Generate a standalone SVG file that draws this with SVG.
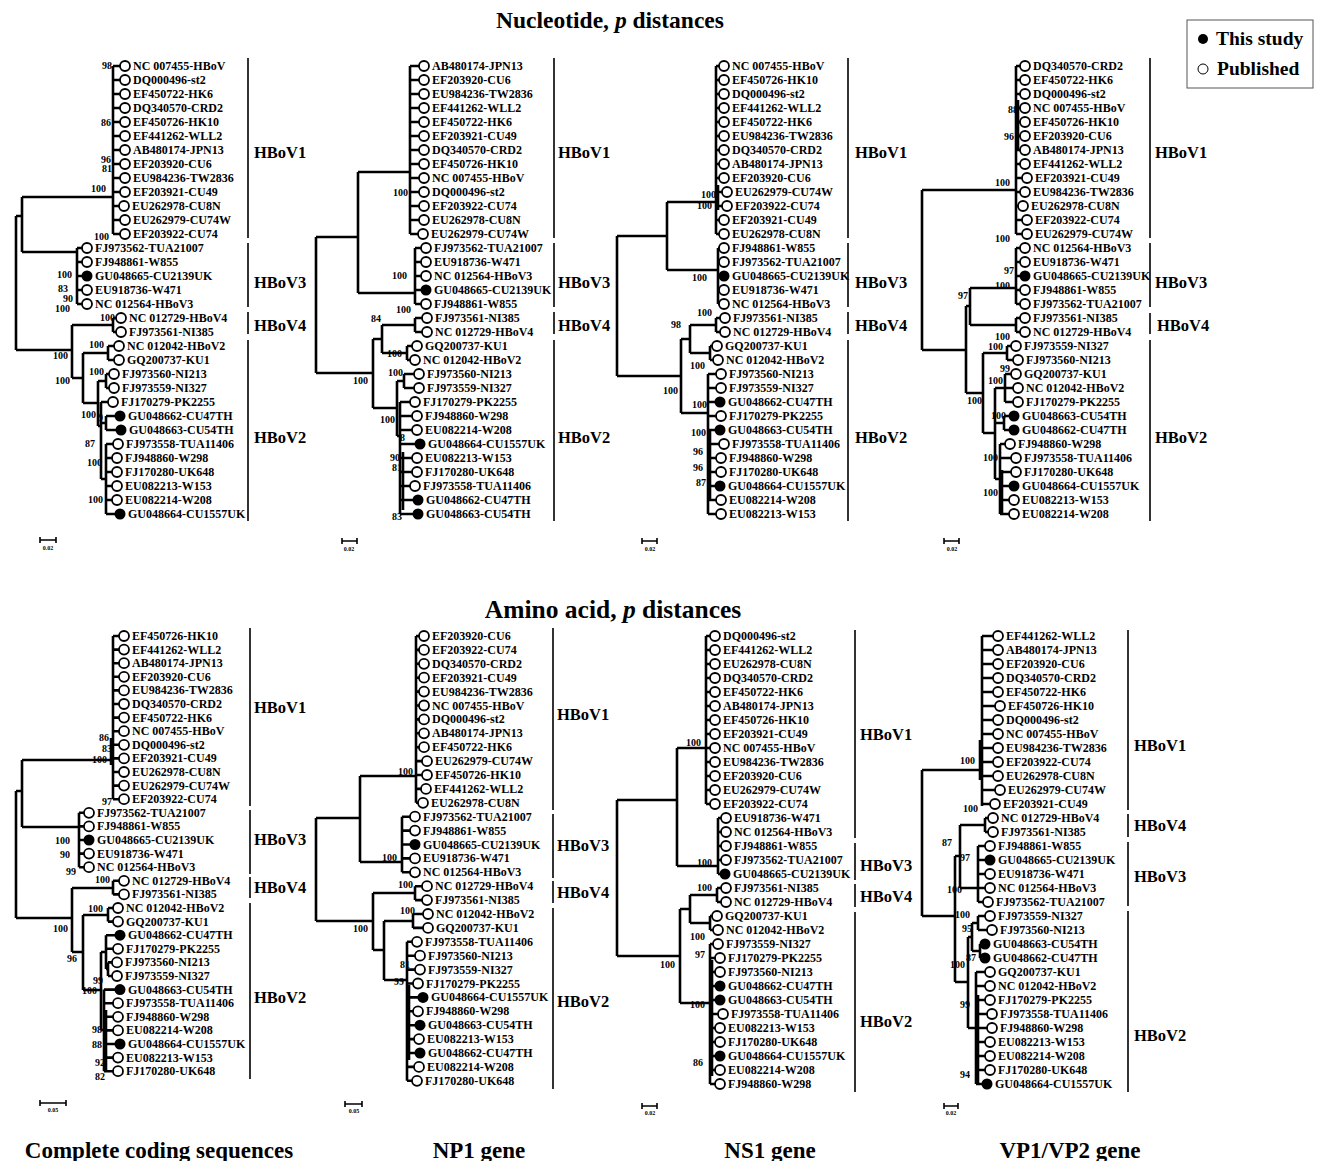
<svg xmlns="http://www.w3.org/2000/svg" width="1322" height="1161" viewBox="0 0 1322 1161">
<style>
text{font-family:"Liberation Serif","Times New Roman",serif;font-weight:bold;font-size:12px;fill:#000}
.br{fill:none;stroke:#000;stroke-width:2.6}
.bk{fill:none;stroke:#000;stroke-width:1.6}
.sc{fill:none;stroke:#000;stroke-width:1.6}
.o{fill:#fff;stroke:#000;stroke-width:1.8}
.f{fill:#000}
.bs{font-size:10px;text-anchor:end}
.cl{font-size:16.5px}
.ti{font-size:23.5px;text-anchor:middle}
.ti2{font-size:25.5px;text-anchor:middle}
.gl{font-size:23px;text-anchor:middle}
.st{font-size:6px;text-anchor:middle}
.lg{font-size:19.5px}
</style>
<rect width="1322" height="1161" fill="#fff"/>
<g id="titles">
<text class="ti" x="610" y="28">Nucleotide, <tspan font-style="italic">p</tspan> distances</text>
<text class="ti2" x="613" y="618">Amino acid, <tspan font-style="italic">p</tspan> distances</text>
<text class="gl" x="159" y="1158">Complete coding sequences</text>
<text class="gl" x="479" y="1158">NP1 gene</text>
<text class="gl" x="770" y="1158">NS1 gene</text>
<text class="gl" x="1070" y="1158">VP1/VP2 gene</text>
</g>
<g id="legend">
<rect x="1187" y="20" width="126" height="68" fill="#fff" stroke="#555" stroke-width="1"/>
<circle class="f" cx="1203" cy="39" r="5"/>
<text class="lg" x="1216" y="45">This study</text>
<circle cx="1203" cy="69" r="5" fill="#fff" stroke="#000" stroke-width="1"/>
<text class="lg" x="1217" y="75">Published</text>
</g>
<g id="scalebars">
<path class="sc" d="M40,540H56M40,537V543M56,537V543 M342,541H357M342,538V544M357,538V544 M642,541H657M642,538V544M657,538V544 M944,541H959M944,538V544M959,538V544 M40,1103H66M40,1100V1106M66,1100V1106 M345,1104H362M345,1101V1107M362,1101V1107 M642,1106H657M642,1103V1109M657,1103V1109 M944,1106H958M944,1103V1109M958,1103V1109"/>
<text class="st" x="48" y="550">0.02</text>
<text class="st" x="349" y="551">0.02</text>
<text class="st" x="650" y="551">0.02</text>
<text class="st" x="952" y="551">0.02</text>
<text class="st" x="53" y="1112">0.05</text>
<text class="st" x="354" y="1113">0.05</text>
<text class="st" x="650" y="1115">0.02</text>
<text class="st" x="951" y="1115">0.02</text>
</g>

<!-- ===== Tree 1: nucleotide, complete coding sequences ===== -->
<g id="tree-nt-ccs">
<g id="t1-edges">
<path class="br" d="M16,216V350M16,216H22M22,197V252M22,197H113M113,66V234M113,66H120M113,80H120M113,94H120M113,108H120M113,122H120M113,136H120M113,150H120M113,164H120M113,178H120M113,192H120M113,206H119M113,220H120M113,234H120M22,252H77M77,248V304M77,248H82M77,262H82M77,276H82M77,290H82M77,304H82M16,350H72M72,325V378M72,325H113M113,318V332M113,318H116M113,332H116M72,378H83M83,353V403M83,353H108M108,346V360M108,346H114M108,360H114M83,403H98M98,381V426M98,381H106M106,374V388M106,374H109M106,388H109M98,426H101M101,402V479M101,402H108M101,423H106M106,416V430M106,416H115M106,430H116M101,479H106M106,444V514M106,444H113M106,458H112M106,472H112M106,486H112M106,500H112M106,514H115"/>
<path class="bk" d="M248,58V238M248,243V307M248,312V334M248,340V521"/>
</g>
<g id="t1-0"><circle class="o" cx="125" cy="66" r="5"/><text x="133" y="70">NC 007455-HBoV</text></g>
<g id="t1-1"><circle class="o" cx="125" cy="80" r="5"/><text x="133" y="84">DQ000496-st2</text></g>
<g id="t1-2"><circle class="o" cx="125" cy="94" r="5"/><text x="133" y="98">EF450722-HK6</text></g>
<g id="t1-3"><circle class="o" cx="125" cy="108" r="5"/><text x="133" y="112">DQ340570-CRD2</text></g>
<g id="t1-4"><circle class="o" cx="125" cy="122" r="5"/><text x="133" y="126">EF450726-HK10</text></g>
<g id="t1-5"><circle class="o" cx="125" cy="136" r="5"/><text x="133" y="140">EF441262-WLL2</text></g>
<g id="t1-6"><circle class="o" cx="125" cy="150" r="5"/><text x="133" y="154">AB480174-JPN13</text></g>
<g id="t1-7"><circle class="o" cx="125" cy="164" r="5"/><text x="133" y="168">EF203920-CU6</text></g>
<g id="t1-8"><circle class="o" cx="125" cy="178" r="5"/><text x="133" y="182">EU984236-TW2836</text></g>
<g id="t1-9"><circle class="o" cx="125" cy="192" r="5"/><text x="133" y="196">EF203921-CU49</text></g>
<g id="t1-10"><circle class="o" cx="124" cy="206" r="5"/><text x="132" y="210">EU262978-CU8N</text></g>
<g id="t1-11"><circle class="o" cx="125" cy="220" r="5"/><text x="133" y="224">EU262979-CU74W</text></g>
<g id="t1-12"><circle class="o" cx="125" cy="234" r="5"/><text x="133" y="238">EF203922-CU74</text></g>
<g id="t1-13"><circle class="o" cx="87" cy="248" r="5"/><text x="95" y="252">FJ973562-TUA21007</text></g>
<g id="t1-14"><circle class="o" cx="87" cy="262" r="5"/><text x="95" y="266">FJ948861-W855</text></g>
<g id="t1-15"><circle class="f" cx="87" cy="276" r="5.5"/><text x="95" y="280">GU048665-CU2139UK</text></g>
<g id="t1-16"><circle class="o" cx="87" cy="290" r="5"/><text x="95" y="294">EU918736-W471</text></g>
<g id="t1-17"><circle class="o" cx="87" cy="304" r="5"/><text x="95" y="308">NC 012564-HBoV3</text></g>
<g id="t1-18"><circle class="o" cx="121" cy="318" r="5"/><text x="129" y="322">NC 012729-HBoV4</text></g>
<g id="t1-19"><circle class="o" cx="121" cy="332" r="5"/><text x="129" y="336">FJ973561-NI385</text></g>
<g id="t1-20"><circle class="o" cx="119" cy="346" r="5"/><text x="127" y="350">NC 012042-HBoV2</text></g>
<g id="t1-21"><circle class="o" cx="119" cy="360" r="5"/><text x="127" y="364">GQ200737-KU1</text></g>
<g id="t1-22"><circle class="o" cx="114" cy="374" r="5"/><text x="122" y="378">FJ973560-NI213</text></g>
<g id="t1-23"><circle class="o" cx="114" cy="388" r="5"/><text x="122" y="392">FJ973559-NI327</text></g>
<g id="t1-24"><circle class="o" cx="113" cy="402" r="5"/><text x="121" y="406">FJ170279-PK2255</text></g>
<g id="t1-25"><circle class="f" cx="120" cy="416" r="5.5"/><text x="128" y="420">GU048662-CU47TH</text></g>
<g id="t1-26"><circle class="f" cx="121" cy="430" r="5.5"/><text x="129" y="434">GU048663-CU54TH</text></g>
<g id="t1-27"><circle class="o" cx="118" cy="444" r="5"/><text x="126" y="448">FJ973558-TUA11406</text></g>
<g id="t1-28"><circle class="o" cx="117" cy="458" r="5"/><text x="125" y="462">FJ948860-W298</text></g>
<g id="t1-29"><circle class="o" cx="117" cy="472" r="5"/><text x="125" y="476">FJ170280-UK648</text></g>
<g id="t1-30"><circle class="o" cx="117" cy="486" r="5"/><text x="125" y="490">EU082213-W153</text></g>
<g id="t1-31"><circle class="o" cx="117" cy="500" r="5"/><text x="125" y="504">EU082214-W208</text></g>
<g id="t1-32"><circle class="f" cx="120" cy="514" r="5.5"/><text x="128" y="518">GU048664-CU1557UK</text></g>
<g id="t1-boot">
<text class="bs" x="112" y="69">98</text><text class="bs" x="111" y="126">86</text><text class="bs" x="111" y="163">96</text><text class="bs" x="112" y="172">81</text>
<text class="bs" x="106" y="192">100</text><text class="bs" x="109" y="240">100</text>
<text class="bs" x="72" y="278">100</text><text class="bs" x="68" y="292">83</text><text class="bs" x="73" y="302">90</text><text class="bs" x="70" y="312">100</text>
<text class="bs" x="115" y="321">100</text><text class="bs" x="104" y="348">100</text><text class="bs" x="68" y="359">100</text>
<text class="bs" x="104" y="375">100</text><text class="bs" x="70" y="384">100</text>
<text class="bs" x="96" y="418">100</text><text class="bs" x="103" y="421">9</text>
<text class="bs" x="95" y="447">87</text><text class="bs" x="102" y="466">100</text><text class="bs" x="103" y="503">100</text>
</g>
<g id="t1-clades"><text class="cl" x="254" y="158">HBoV1</text><text class="cl" x="254" y="288">HBoV3</text><text class="cl" x="254" y="331">HBoV4</text><text class="cl" x="254" y="443">HBoV2</text></g>
</g>

<!-- ===== Tree 2: nucleotide, NP1 ===== -->
<g id="tree-nt-np1">
<g id="t2-edges">
<path class="br" d="M316,237V373M316,237H358M358,172V293M358,172H410M410,66V234M410,66H419M410,80H419M410,94H419M410,108H419M410,122H419M410,136H419M410,150H419M410,164H419M410,178H419M410,192H419M410,206H419M410,220H419M410,234H418M358,293H415M415,248V304M415,248H421M415,262H421M415,276H421M415,290H421M415,304H421M316,373H373M373,339V408M373,339H382M382,325V353M382,325H415M415,318V332M415,318H422M415,332H422M382,353H407M407,346V360M407,346H412M407,360H410M373,408H397M397,381V436M397,381H404M404,374V388M404,374H414M404,388H414M397,436H400M400,402V514M403,452V510M400,402H410M400,416H412M400,430H412M400,444H415M400,458H412M400,472H412M400,486H410M400,500H413M400,514H413"/>
<path class="bk" d="M554,58V238M554,243V307M554,312V334M554,340V521"/>
</g>
<g id="t2-0"><circle class="o" cx="424" cy="66" r="5"/><text x="432" y="70">AB480174-JPN13</text></g>
<g id="t2-1"><circle class="o" cx="424" cy="80" r="5"/><text x="432" y="84">EF203920-CU6</text></g>
<g id="t2-2"><circle class="o" cx="424" cy="94" r="5"/><text x="432" y="98">EU984236-TW2836</text></g>
<g id="t2-3"><circle class="o" cx="424" cy="108" r="5"/><text x="432" y="112">EF441262-WLL2</text></g>
<g id="t2-4"><circle class="o" cx="424" cy="122" r="5"/><text x="432" y="126">EF450722-HK6</text></g>
<g id="t2-5"><circle class="o" cx="424" cy="136" r="5"/><text x="432" y="140">EF203921-CU49</text></g>
<g id="t2-6"><circle class="o" cx="424" cy="150" r="5"/><text x="432" y="154">DQ340570-CRD2</text></g>
<g id="t2-7"><circle class="o" cx="424" cy="164" r="5"/><text x="432" y="168">EF450726-HK10</text></g>
<g id="t2-8"><circle class="o" cx="424" cy="178" r="5"/><text x="432" y="182">NC 007455-HBoV</text></g>
<g id="t2-9"><circle class="o" cx="424" cy="192" r="5"/><text x="432" y="196">DQ000496-st2</text></g>
<g id="t2-10"><circle class="o" cx="424" cy="206" r="5"/><text x="432" y="210">EF203922-CU74</text></g>
<g id="t2-11"><circle class="o" cx="424" cy="220" r="5"/><text x="432" y="224">EU262978-CU8N</text></g>
<g id="t2-12"><circle class="o" cx="423" cy="234" r="5"/><text x="431" y="238">EU262979-CU74W</text></g>
<g id="t2-13"><circle class="o" cx="426" cy="248" r="5"/><text x="434" y="252">FJ973562-TUA21007</text></g>
<g id="t2-14"><circle class="o" cx="426" cy="262" r="5"/><text x="434" y="266">EU918736-W471</text></g>
<g id="t2-15"><circle class="o" cx="426" cy="276" r="5"/><text x="434" y="280">NC 012564-HBoV3</text></g>
<g id="t2-16"><circle class="f" cx="426" cy="290" r="5.5"/><text x="434" y="294">GU048665-CU2139UK</text></g>
<g id="t2-17"><circle class="o" cx="426" cy="304" r="5"/><text x="434" y="308">FJ948861-W855</text></g>
<g id="t2-18"><circle class="o" cx="427" cy="318" r="5"/><text x="435" y="322">FJ973561-NI385</text></g>
<g id="t2-19"><circle class="o" cx="427" cy="332" r="5"/><text x="435" y="336">NC 012729-HBoV4</text></g>
<g id="t2-20"><circle class="o" cx="417" cy="346" r="5"/><text x="425" y="350">GQ200737-KU1</text></g>
<g id="t2-21"><circle class="o" cx="415" cy="360" r="5"/><text x="423" y="364">NC 012042-HBoV2</text></g>
<g id="t2-22"><circle class="o" cx="419" cy="374" r="5"/><text x="427" y="378">FJ973560-NI213</text></g>
<g id="t2-23"><circle class="o" cx="419" cy="388" r="5"/><text x="427" y="392">FJ973559-NI327</text></g>
<g id="t2-24"><circle class="o" cx="415" cy="402" r="5"/><text x="423" y="406">FJ170279-PK2255</text></g>
<g id="t2-25"><circle class="o" cx="417" cy="416" r="5"/><text x="425" y="420">FJ948860-W298</text></g>
<g id="t2-26"><circle class="o" cx="417" cy="430" r="5"/><text x="425" y="434">EU082214-W208</text></g>
<g id="t2-27"><circle class="f" cx="420" cy="444" r="5.5"/><text x="428" y="448">GU048664-CU1557UK</text></g>
<g id="t2-28"><circle class="o" cx="417" cy="458" r="5"/><text x="425" y="462">EU082213-W153</text></g>
<g id="t2-29"><circle class="o" cx="417" cy="472" r="5"/><text x="425" y="476">FJ170280-UK648</text></g>
<g id="t2-30"><circle class="o" cx="415" cy="486" r="5"/><text x="423" y="490">FJ973558-TUA11406</text></g>
<g id="t2-31"><circle class="f" cx="418" cy="500" r="5.5"/><text x="426" y="504">GU048662-CU47TH</text></g>
<g id="t2-32"><circle class="f" cx="418" cy="514" r="5.5"/><text x="426" y="518">GU048663-CU54TH</text></g>
<g id="t2-boot">
<text class="bs" x="408" y="196">100</text><text class="bs" x="407" y="279">100</text><text class="bs" x="411" y="313">100</text><text class="bs" x="381" y="322">84</text>
<text class="bs" x="402" y="357">100</text><text class="bs" x="368" y="384">100</text><text class="bs" x="403" y="376">100</text><text class="bs" x="395" y="423">100</text>
<text class="bs" x="405" y="441">8</text><text class="bs" x="400" y="461">90</text><text class="bs" x="402" y="471">81</text><text class="bs" x="402" y="520">83</text>
</g>
<g id="t2-clades"><text class="cl" x="558" y="158">HBoV1</text><text class="cl" x="558" y="288">HBoV3</text><text class="cl" x="558" y="331">HBoV4</text><text class="cl" x="558" y="443">HBoV2</text></g>
</g>

<!-- ===== Tree 3: nucleotide, NS1 ===== -->
<g id="tree-nt-ns1">
<g id="t3-edges">
<path class="br" d="M617,236V376M617,236H667M667,202V270M667,202H716M716,66V234M718,185V210M716,66H719M716,80H719M716,94H719M716,108H719M716,122H719M716,136H719M716,150H719M716,164H719M716,178H719M716,192H722M716,206H722M716,220H719M716,234H719M667,270H718M718,248V304M718,248H719M718,304H719M617,376H681M681,339V413M681,339H690M690,325V353M690,325H716M716,318V332M716,318H720M716,332H720M690,353H710M710,346V360M710,346H712M710,360H713M681,413H708M708,374V514M710,430V500M708,374H716M708,388H716M708,402H715M708,416H716M708,430H715M708,444H719M708,458H716M708,472H716M708,486H715M708,500H716M708,514H716"/>
<path class="bk" d="M848,58V238M848,243V307M848,312V334M848,340V521"/>
</g>
<g id="t3-0"><circle class="o" cx="724" cy="66" r="5"/><text x="732" y="70">NC 007455-HBoV</text></g>
<g id="t3-1"><circle class="o" cx="724" cy="80" r="5"/><text x="732" y="84">EF450726-HK10</text></g>
<g id="t3-2"><circle class="o" cx="724" cy="94" r="5"/><text x="732" y="98">DQ000496-st2</text></g>
<g id="t3-3"><circle class="o" cx="724" cy="108" r="5"/><text x="732" y="112">EF441262-WLL2</text></g>
<g id="t3-4"><circle class="o" cx="724" cy="122" r="5"/><text x="732" y="126">EF450722-HK6</text></g>
<g id="t3-5"><circle class="o" cx="724" cy="136" r="5"/><text x="732" y="140">EU984236-TW2836</text></g>
<g id="t3-6"><circle class="o" cx="724" cy="150" r="5"/><text x="732" y="154">DQ340570-CRD2</text></g>
<g id="t3-7"><circle class="o" cx="724" cy="164" r="5"/><text x="732" y="168">AB480174-JPN13</text></g>
<g id="t3-8"><circle class="o" cx="724" cy="178" r="5"/><text x="732" y="182">EF203920-CU6</text></g>
<g id="t3-9"><circle class="o" cx="727" cy="192" r="5"/><text x="735" y="196">EU262979-CU74W</text></g>
<g id="t3-10"><circle class="o" cx="727" cy="206" r="5"/><text x="735" y="210">EF203922-CU74</text></g>
<g id="t3-11"><circle class="o" cx="724" cy="220" r="5"/><text x="732" y="224">EF203921-CU49</text></g>
<g id="t3-12"><circle class="o" cx="724" cy="234" r="5"/><text x="732" y="238">EU262978-CU8N</text></g>
<g id="t3-13"><circle class="o" cx="724" cy="248" r="5"/><text x="732" y="252">FJ948861-W855</text></g>
<g id="t3-14"><circle class="o" cx="724" cy="262" r="5"/><text x="732" y="266">FJ973562-TUA21007</text></g>
<g id="t3-15"><circle class="f" cx="724" cy="276" r="5.5"/><text x="732" y="280">GU048665-CU2139UK</text></g>
<g id="t3-16"><circle class="o" cx="724" cy="290" r="5"/><text x="732" y="294">EU918736-W471</text></g>
<g id="t3-17"><circle class="o" cx="724" cy="304" r="5"/><text x="732" y="308">NC 012564-HBoV3</text></g>
<g id="t3-18"><circle class="o" cx="725" cy="318" r="5"/><text x="733" y="322">FJ973561-NI385</text></g>
<g id="t3-19"><circle class="o" cx="725" cy="332" r="5"/><text x="733" y="336">NC 012729-HBoV4</text></g>
<g id="t3-20"><circle class="o" cx="717" cy="346" r="5"/><text x="725" y="350">GQ200737-KU1</text></g>
<g id="t3-21"><circle class="o" cx="718" cy="360" r="5"/><text x="726" y="364">NC 012042-HBoV2</text></g>
<g id="t3-22"><circle class="o" cx="721" cy="374" r="5"/><text x="729" y="378">FJ973560-NI213</text></g>
<g id="t3-23"><circle class="o" cx="721" cy="388" r="5"/><text x="729" y="392">FJ973559-NI327</text></g>
<g id="t3-24"><circle class="f" cx="720" cy="402" r="5.5"/><text x="728" y="406">GU048662-CU47TH</text></g>
<g id="t3-25"><circle class="o" cx="721" cy="416" r="5"/><text x="729" y="420">FJ170279-PK2255</text></g>
<g id="t3-26"><circle class="f" cx="720" cy="430" r="5.5"/><text x="728" y="434">GU048663-CU54TH</text></g>
<g id="t3-27"><circle class="o" cx="724" cy="444" r="5"/><text x="732" y="448">FJ973558-TUA11406</text></g>
<g id="t3-28"><circle class="o" cx="721" cy="458" r="5"/><text x="729" y="462">FJ948860-W298</text></g>
<g id="t3-29"><circle class="o" cx="721" cy="472" r="5"/><text x="729" y="476">FJ170280-UK648</text></g>
<g id="t3-30"><circle class="f" cx="720" cy="486" r="5.5"/><text x="728" y="490">GU048664-CU1557UK</text></g>
<g id="t3-31"><circle class="o" cx="721" cy="500" r="5"/><text x="729" y="504">EU082214-W208</text></g>
<g id="t3-32"><circle class="o" cx="721" cy="514" r="5"/><text x="729" y="518">EU082213-W153</text></g>
<g id="t3-boot">
<text class="bs" x="716" y="198">100</text><text class="bs" x="712" y="209">100</text><text class="bs" x="707" y="281">100</text><text class="bs" x="712" y="316">100</text>
<text class="bs" x="681" y="328">98</text><text class="bs" x="705" y="369">100</text><text class="bs" x="678" y="394">100</text><text class="bs" x="707" y="408">100</text>
<text class="bs" x="706" y="436">100</text><text class="bs" x="703" y="455">96</text><text class="bs" x="703" y="471">96</text><text class="bs" x="706" y="486">87</text>
</g>
<g id="t3-clades"><text class="cl" x="855" y="158">HBoV1</text><text class="cl" x="855" y="288">HBoV3</text><text class="cl" x="855" y="331">HBoV4</text><text class="cl" x="855" y="443">HBoV2</text></g>
</g>

<!-- ===== Tree 4: nucleotide, VP1/VP2 ===== -->
<g id="tree-nt-vp">
<g id="t4-edges">
<path class="br" d="M922,190V350M922,190H1016M1016,66V234M1018,100V150M1016,66H1020M1016,80H1020M1016,94H1020M1016,108H1020M1016,122H1020M1016,136H1020M1016,150H1020M1016,164H1020M1016,178H1022M1016,192H1020M1016,206H1018M1016,220H1022M1016,234H1022M922,350H966M966,306V393M966,306H970M970,288V325M970,288H1016M1016,248V304M1016,248H1020M1016,262H1020M1016,276H1020M1016,290H1020M1016,304H1020M970,325H1016M1016,318V332M1016,318H1020M1016,332H1020M966,393H983M983,353V433M983,353H1007M1007,346V360M1007,346H1011M1007,360H1013M983,433H995M995,388V479M995,388H1005M1005,374V402M1005,374H1011M1005,388H1013M1005,402H1013M995,423H1004M1004,416V430M1004,416H1009M1004,430H1009M995,479H1000M1000,444V514M1002,470V514M1000,444H1005M1000,458H1011M1000,472H1011M1000,486H1009M1000,500H1009M1000,514H1009"/>
<path class="bk" d="M1150,58V238M1150,243V307M1150,313V334M1150,340V521"/>
</g>
<g id="t4-0"><circle class="o" cx="1025" cy="66" r="5"/><text x="1033" y="70">DQ340570-CRD2</text></g>
<g id="t4-1"><circle class="o" cx="1025" cy="80" r="5"/><text x="1033" y="84">EF450722-HK6</text></g>
<g id="t4-2"><circle class="o" cx="1025" cy="94" r="5"/><text x="1033" y="98">DQ000496-st2</text></g>
<g id="t4-3"><circle class="o" cx="1025" cy="108" r="5"/><text x="1033" y="112">NC 007455-HBoV</text></g>
<g id="t4-4"><circle class="o" cx="1025" cy="122" r="5"/><text x="1033" y="126">EF450726-HK10</text></g>
<g id="t4-5"><circle class="o" cx="1025" cy="136" r="5"/><text x="1033" y="140">EF203920-CU6</text></g>
<g id="t4-6"><circle class="o" cx="1025" cy="150" r="5"/><text x="1033" y="154">AB480174-JPN13</text></g>
<g id="t4-7"><circle class="o" cx="1025" cy="164" r="5"/><text x="1033" y="168">EF441262-WLL2</text></g>
<g id="t4-8"><circle class="o" cx="1027" cy="178" r="5"/><text x="1035" y="182">EF203921-CU49</text></g>
<g id="t4-9"><circle class="o" cx="1025" cy="192" r="5"/><text x="1033" y="196">EU984236-TW2836</text></g>
<g id="t4-10"><circle class="o" cx="1023" cy="206" r="5"/><text x="1031" y="210">EU262978-CU8N</text></g>
<g id="t4-11"><circle class="o" cx="1027" cy="220" r="5"/><text x="1035" y="224">EF203922-CU74</text></g>
<g id="t4-12"><circle class="o" cx="1027" cy="234" r="5"/><text x="1035" y="238">EU262979-CU74W</text></g>
<g id="t4-13"><circle class="o" cx="1025" cy="248" r="5"/><text x="1033" y="252">NC 012564-HBoV3</text></g>
<g id="t4-14"><circle class="o" cx="1025" cy="262" r="5"/><text x="1033" y="266">EU918736-W471</text></g>
<g id="t4-15"><circle class="f" cx="1025" cy="276" r="5.5"/><text x="1033" y="280">GU048665-CU2139UK</text></g>
<g id="t4-16"><circle class="o" cx="1025" cy="290" r="5"/><text x="1033" y="294">FJ948861-W855</text></g>
<g id="t4-17"><circle class="o" cx="1025" cy="304" r="5"/><text x="1033" y="308">FJ973562-TUA21007</text></g>
<g id="t4-18"><circle class="o" cx="1025" cy="318" r="5"/><text x="1033" y="322">FJ973561-NI385</text></g>
<g id="t4-19"><circle class="o" cx="1025" cy="332" r="5"/><text x="1033" y="336">NC 012729-HBoV4</text></g>
<g id="t4-20"><circle class="o" cx="1016" cy="346" r="5"/><text x="1024" y="350">FJ973559-NI327</text></g>
<g id="t4-21"><circle class="o" cx="1018" cy="360" r="5"/><text x="1026" y="364">FJ973560-NI213</text></g>
<g id="t4-22"><circle class="o" cx="1016" cy="374" r="5"/><text x="1024" y="378">GQ200737-KU1</text></g>
<g id="t4-23"><circle class="o" cx="1018" cy="388" r="5"/><text x="1026" y="392">NC 012042-HBoV2</text></g>
<g id="t4-24"><circle class="o" cx="1018" cy="402" r="5"/><text x="1026" y="406">FJ170279-PK2255</text></g>
<g id="t4-25"><circle class="f" cx="1014" cy="416" r="5.5"/><text x="1022" y="420">GU048663-CU54TH</text></g>
<g id="t4-26"><circle class="f" cx="1014" cy="430" r="5.5"/><text x="1022" y="434">GU048662-CU47TH</text></g>
<g id="t4-27"><circle class="o" cx="1010" cy="444" r="5"/><text x="1018" y="448">FJ948860-W298</text></g>
<g id="t4-28"><circle class="o" cx="1016" cy="458" r="5"/><text x="1024" y="462">FJ973558-TUA11406</text></g>
<g id="t4-29"><circle class="o" cx="1016" cy="472" r="5"/><text x="1024" y="476">FJ170280-UK648</text></g>
<g id="t4-30"><circle class="f" cx="1014" cy="486" r="5.5"/><text x="1022" y="490">GU048664-CU1557UK</text></g>
<g id="t4-31"><circle class="o" cx="1014" cy="500" r="5"/><text x="1022" y="504">EU082213-W153</text></g>
<g id="t4-32"><circle class="o" cx="1014" cy="514" r="5"/><text x="1022" y="518">EU082214-W208</text></g>
<g id="t4-boot">
<text class="bs" x="1018" y="113">88</text><text class="bs" x="1014" y="140">96</text><text class="bs" x="1010" y="186">100</text><text class="bs" x="1010" y="242">100</text>
<text class="bs" x="1014" y="274">97</text><text class="bs" x="1010" y="289">100</text><text class="bs" x="968" y="299">97</text><text class="bs" x="1010" y="340">100</text>
<text class="bs" x="1003" y="350">100</text><text class="bs" x="1010" y="372">99</text><text class="bs" x="1003" y="384">100</text><text class="bs" x="982" y="404">100</text>
<text class="bs" x="1006" y="419">100</text><text class="bs" x="998" y="461">100</text><text class="bs" x="998" y="496">100</text>
</g>
<g id="t4-clades"><text class="cl" x="1155" y="158">HBoV1</text><text class="cl" x="1155" y="288">HBoV3</text><text class="cl" x="1157" y="331">HBoV4</text><text class="cl" x="1155" y="443">HBoV2</text></g>
</g>

<!-- ===== Tree 5: amino acid, complete coding sequences ===== -->
<g id="tree-aa-ccs">
<g id="t5-edges">
<path class="br" d="M16,791V918M16,791H22M22,760V827M22,760H113M113,636V799.2M111,738V765M113,636H119M113,649.6H119M113,663.2H119M113,676.8H119M113,690.4H119M113,704H119M113,717.6H119M113,731.2H119M113,744.8H119M113,758.4H119M113,772H119M113,785.6H119M113,799.2H119M22,827H79M79,812.8V867.2M79,812.8H84M79,826.4H84M79,840H84M79,853.6H84M79,867.2H84M16,918H72M72,888V952M72,888H113M113,880.8V894.4M113,880.8H119M113,894.4H119M72,952H83M83,915V990M83,915H108M108,908V921.6M108,908H113M108,921.6H113M83,990H101M101,952V1030M101,952H106M106,935.2V969M106,935.2H115M106,948.8H113M106,969H108M108,962.4V976M108,962.4H112M108,976H112M101,1030H104M104,989.6V1071.2M106,1010V1071M104,989.6H115M104,1003.2H113M104,1016.8H113M104,1030.4H113M104,1044H115M104,1057.6H113M104,1071.2H113"/>
<path class="bk" d="M250,628V806M250,810V874M250,877V898M250,903V1079"/>
</g>
<g id="t5-0"><circle class="o" cx="124" cy="636" r="5"/><text x="132" y="640">EF450726-HK10</text></g>
<g id="t5-1"><circle class="o" cx="124" cy="649.6" r="5"/><text x="132" y="653.6">EF441262-WLL2</text></g>
<g id="t5-2"><circle class="o" cx="124" cy="663.2" r="5"/><text x="132" y="667.2">AB480174-JPN13</text></g>
<g id="t5-3"><circle class="o" cx="124" cy="676.8" r="5"/><text x="132" y="680.8">EF203920-CU6</text></g>
<g id="t5-4"><circle class="o" cx="124" cy="690.4" r="5"/><text x="132" y="694.4">EU984236-TW2836</text></g>
<g id="t5-5"><circle class="o" cx="124" cy="704" r="5"/><text x="132" y="708">DQ340570-CRD2</text></g>
<g id="t5-6"><circle class="o" cx="124" cy="717.6" r="5"/><text x="132" y="721.6">EF450722-HK6</text></g>
<g id="t5-7"><circle class="o" cx="124" cy="731.2" r="5"/><text x="132" y="735.2">NC 007455-HBoV</text></g>
<g id="t5-8"><circle class="o" cx="124" cy="744.8" r="5"/><text x="132" y="748.8">DQ000496-st2</text></g>
<g id="t5-9"><circle class="o" cx="124" cy="758.4" r="5"/><text x="132" y="762.4">EF203921-CU49</text></g>
<g id="t5-10"><circle class="o" cx="124" cy="772" r="5"/><text x="132" y="776">EU262978-CU8N</text></g>
<g id="t5-11"><circle class="o" cx="124" cy="785.6" r="5"/><text x="132" y="789.6">EU262979-CU74W</text></g>
<g id="t5-12"><circle class="o" cx="124" cy="799.2" r="5"/><text x="132" y="803.2">EF203922-CU74</text></g>
<g id="t5-13"><circle class="o" cx="89" cy="812.8" r="5"/><text x="97" y="816.8">FJ973562-TUA21007</text></g>
<g id="t5-14"><circle class="o" cx="89" cy="826.4" r="5"/><text x="97" y="830.4">FJ948861-W855</text></g>
<g id="t5-15"><circle class="f" cx="89" cy="840" r="5.5"/><text x="97" y="844">GU048665-CU2139UK</text></g>
<g id="t5-16"><circle class="o" cx="89" cy="853.6" r="5"/><text x="97" y="857.6">EU918736-W471</text></g>
<g id="t5-17"><circle class="o" cx="89" cy="867.2" r="5"/><text x="97" y="871.2">NC 012564-HBoV3</text></g>
<g id="t5-18"><circle class="o" cx="124" cy="880.8" r="5"/><text x="132" y="884.8">NC 012729-HBoV4</text></g>
<g id="t5-19"><circle class="o" cx="124" cy="894.4" r="5"/><text x="132" y="898.4">FJ973561-NI385</text></g>
<g id="t5-20"><circle class="o" cx="118" cy="908" r="5"/><text x="126" y="912">NC 012042-HBoV2</text></g>
<g id="t5-21"><circle class="o" cx="118" cy="921.6" r="5"/><text x="126" y="925.6">GQ200737-KU1</text></g>
<g id="t5-22"><circle class="f" cx="120" cy="935.2" r="5.5"/><text x="128" y="939.2">GU048662-CU47TH</text></g>
<g id="t5-23"><circle class="o" cx="118" cy="948.8" r="5"/><text x="126" y="952.8">FJ170279-PK2255</text></g>
<g id="t5-24"><circle class="o" cx="117" cy="962.4" r="5"/><text x="125" y="966.4">FJ973560-NI213</text></g>
<g id="t5-25"><circle class="o" cx="117" cy="976" r="5"/><text x="125" y="980">FJ973559-NI327</text></g>
<g id="t5-26"><circle class="f" cx="120" cy="989.6" r="5.5"/><text x="128" y="993.6">GU048663-CU54TH</text></g>
<g id="t5-27"><circle class="o" cx="118" cy="1003.2" r="5"/><text x="126" y="1007.2">FJ973558-TUA11406</text></g>
<g id="t5-28"><circle class="o" cx="118" cy="1016.8" r="5"/><text x="126" y="1020.8">FJ948860-W298</text></g>
<g id="t5-29"><circle class="o" cx="118" cy="1030.4" r="5"/><text x="126" y="1034.4">EU082214-W208</text></g>
<g id="t5-30"><circle class="f" cx="120" cy="1044" r="5.5"/><text x="128" y="1048">GU048664-CU1557UK</text></g>
<g id="t5-31"><circle class="o" cx="118" cy="1057.6" r="5"/><text x="126" y="1061.6">EU082213-W153</text></g>
<g id="t5-32"><circle class="o" cx="118" cy="1071.2" r="5"/><text x="126" y="1075.2">FJ170280-UK648</text></g>
<g id="t5-boot">
<text class="bs" x="109" y="741">86</text><text class="bs" x="112" y="752">83</text><text class="bs" x="107" y="763">100</text><text class="bs" x="112" y="805">97</text>
<text class="bs" x="70" y="844">100</text><text class="bs" x="70" y="858">90</text><text class="bs" x="76" y="875">99</text><text class="bs" x="110" y="883">100</text>
<text class="bs" x="103" y="912">100</text><text class="bs" x="68" y="932">100</text><text class="bs" x="77" y="962">96</text><text class="bs" x="103" y="984">99</text><text class="bs" x="97" y="994">100</text>
<text class="bs" x="102" y="1033">98</text><text class="bs" x="102" y="1048">88</text><text class="bs" x="105" y="1066">92</text><text class="bs" x="105" y="1080">82</text>
</g>
<g id="t5-clades"><text class="cl" x="254" y="713">HBoV1</text><text class="cl" x="254" y="845">HBoV3</text><text class="cl" x="254" y="893">HBoV4</text><text class="cl" x="254" y="1003">HBoV2</text></g>
</g>

<!-- ===== Tree 6: amino acid, NP1 ===== -->
<g id="tree-aa-np1">
<g id="t6-edges">
<path class="br" d="M316,818V921M316,818H360M360,776V862M360,776H416M416,636V802.8M416,636H419M416,649.9H419M416,663.8H419M416,677.7H419M416,691.6H419M416,705.5H419M416,719.4H419M416,733.3H419M416,747.2H419M416,761.1H422M416,775H422M416,788.9H421M416,802.8H418M360,862H402M402,816.7V872.3M402,816.7H410M402,830.6H410M402,844.5H410M402,858.4H410M402,872.3H410M316,921H373M373,893V950M373,893H415M415,886.2V900.1M415,886.2H422M415,900.1H422M373,950H384M384,921V980M384,921H413M413,914V927.9M413,914H423M413,927.9H423M384,980H407M407,941.8V1080.8M409,985V1060M407,941.8H412M407,955.7H415M407,969.6H415M407,983.5H413M407,997.4H418M407,1011.3H413M407,1025.2H415M407,1039.1H414M407,1053H415M407,1066.9H414M407,1080.8H412"/>
<path class="bk" d="M553,628V810M553,814V878M553,881V903M553,908V1089"/>
</g>
<g id="t6-0"><circle class="o" cx="424" cy="636" r="5"/><text x="432" y="640">EF203920-CU6</text></g>
<g id="t6-1"><circle class="o" cx="424" cy="649.9" r="5"/><text x="432" y="653.9">EF203922-CU74</text></g>
<g id="t6-2"><circle class="o" cx="424" cy="663.8" r="5"/><text x="432" y="667.8">DQ340570-CRD2</text></g>
<g id="t6-3"><circle class="o" cx="424" cy="677.7" r="5"/><text x="432" y="681.7">EF203921-CU49</text></g>
<g id="t6-4"><circle class="o" cx="424" cy="691.6" r="5"/><text x="432" y="695.6">EU984236-TW2836</text></g>
<g id="t6-5"><circle class="o" cx="424" cy="705.5" r="5"/><text x="432" y="709.5">NC 007455-HBoV</text></g>
<g id="t6-6"><circle class="o" cx="424" cy="719.4" r="5"/><text x="432" y="723.4">DQ000496-st2</text></g>
<g id="t6-7"><circle class="o" cx="424" cy="733.3" r="5"/><text x="432" y="737.3">AB480174-JPN13</text></g>
<g id="t6-8"><circle class="o" cx="424" cy="747.2" r="5"/><text x="432" y="751.2">EF450722-HK6</text></g>
<g id="t6-9"><circle class="o" cx="427" cy="761.1" r="5"/><text x="435" y="765.1">EU262979-CU74W</text></g>
<g id="t6-10"><circle class="o" cx="427" cy="775" r="5"/><text x="435" y="779">EF450726-HK10</text></g>
<g id="t6-11"><circle class="o" cx="426" cy="788.9" r="5"/><text x="434" y="792.9">EF441262-WLL2</text></g>
<g id="t6-12"><circle class="o" cx="423" cy="802.8" r="5"/><text x="431" y="806.8">EU262978-CU8N</text></g>
<g id="t6-13"><circle class="o" cx="415" cy="816.7" r="5"/><text x="423" y="820.7">FJ973562-TUA21007</text></g>
<g id="t6-14"><circle class="o" cx="415" cy="830.6" r="5"/><text x="423" y="834.6">FJ948861-W855</text></g>
<g id="t6-15"><circle class="f" cx="415" cy="844.5" r="5.5"/><text x="423" y="848.5">GU048665-CU2139UK</text></g>
<g id="t6-16"><circle class="o" cx="415" cy="858.4" r="5"/><text x="423" y="862.4">EU918736-W471</text></g>
<g id="t6-17"><circle class="o" cx="415" cy="872.3" r="5"/><text x="423" y="876.3">NC 012564-HBoV3</text></g>
<g id="t6-18"><circle class="o" cx="427" cy="886.2" r="5"/><text x="435" y="890.2">NC 012729-HBoV4</text></g>
<g id="t6-19"><circle class="o" cx="427" cy="900.1" r="5"/><text x="435" y="904.1">FJ973561-NI385</text></g>
<g id="t6-20"><circle class="o" cx="428" cy="914" r="5"/><text x="436" y="918">NC 012042-HBoV2</text></g>
<g id="t6-21"><circle class="o" cx="428" cy="927.9" r="5"/><text x="436" y="931.9">GQ200737-KU1</text></g>
<g id="t6-22"><circle class="o" cx="417" cy="941.8" r="5"/><text x="425" y="945.8">FJ973558-TUA11406</text></g>
<g id="t6-23"><circle class="o" cx="420" cy="955.7" r="5"/><text x="428" y="959.7">FJ973560-NI213</text></g>
<g id="t6-24"><circle class="o" cx="420" cy="969.6" r="5"/><text x="428" y="973.6">FJ973559-NI327</text></g>
<g id="t6-25"><circle class="o" cx="418" cy="983.5" r="5"/><text x="426" y="987.5">FJ170279-PK2255</text></g>
<g id="t6-26"><circle class="f" cx="423" cy="997.4" r="5.5"/><text x="431" y="1001.4">GU048664-CU1557UK</text></g>
<g id="t6-27"><circle class="o" cx="418" cy="1011.3" r="5"/><text x="426" y="1015.3">FJ948860-W298</text></g>
<g id="t6-28"><circle class="f" cx="420" cy="1025.2" r="5.5"/><text x="428" y="1029.2">GU048663-CU54TH</text></g>
<g id="t6-29"><circle class="o" cx="419" cy="1039.1" r="5"/><text x="427" y="1043.1">EU082213-W153</text></g>
<g id="t6-30"><circle class="f" cx="420" cy="1053" r="5.5"/><text x="428" y="1057">GU048662-CU47TH</text></g>
<g id="t6-31"><circle class="o" cx="419" cy="1066.9" r="5"/><text x="427" y="1070.9">EU082214-W208</text></g>
<g id="t6-32"><circle class="o" cx="417" cy="1080.8" r="5"/><text x="425" y="1084.8">FJ170280-UK648</text></g>
<g id="t6-boot">
<text class="bs" x="413" y="775">100</text><text class="bs" x="397" y="861">100</text><text class="bs" x="413" y="888">100</text><text class="bs" x="368" y="932">100</text>
<text class="bs" x="415" y="914">100</text><text class="bs" x="410" y="968">81</text><text class="bs" x="404" y="985">99</text>
</g>
<g id="t6-clades"><text class="cl" x="557" y="720">HBoV1</text><text class="cl" x="557" y="851">HBoV3</text><text class="cl" x="557" y="898">HBoV4</text><text class="cl" x="557" y="1007">HBoV2</text></g>
</g>

<!-- ===== Tree 7: amino acid, NS1 ===== -->
<g id="tree-aa-ns1">
<g id="t7-edges">
<path class="br" d="M617,800V956M617,800H677M677,748V866M677,748H706M706,636V804M706,636H710M706,650H710M706,664H710M706,678H710M706,692H710M706,706H710M706,720H710M706,734H710M706,748H710M706,762H710M706,776H710M706,790H710M706,804H710M677,866H718M718,818V874M718,818H721M718,832H721M718,846H721M718,860H721M718,874H720M617,956H680M680,909V1003M680,909H690M690,895V923M690,895H717M717,888V902M717,888H721M717,902H721M690,923H710M710,916V930M710,916H712M710,930H713M680,1003H710M710,944V1084M712,960V1076M710,944H713M710,958H715M710,972H715M710,986H715M710,1000H715M710,1014H718M710,1028H715M710,1042H715M710,1056H715M710,1070H715M710,1084H715"/>
<path class="bk" d="M855,630V838M855,843V880M855,884V907M855,912V1092"/>
</g>
<g id="t7-0"><circle class="o" cx="715" cy="636" r="5"/><text x="723" y="640">DQ000496-st2</text></g>
<g id="t7-1"><circle class="o" cx="715" cy="650" r="5"/><text x="723" y="654">EF441262-WLL2</text></g>
<g id="t7-2"><circle class="o" cx="715" cy="664" r="5"/><text x="723" y="668">EU262978-CU8N</text></g>
<g id="t7-3"><circle class="o" cx="715" cy="678" r="5"/><text x="723" y="682">DQ340570-CRD2</text></g>
<g id="t7-4"><circle class="o" cx="715" cy="692" r="5"/><text x="723" y="696">EF450722-HK6</text></g>
<g id="t7-5"><circle class="o" cx="715" cy="706" r="5"/><text x="723" y="710">AB480174-JPN13</text></g>
<g id="t7-6"><circle class="o" cx="715" cy="720" r="5"/><text x="723" y="724">EF450726-HK10</text></g>
<g id="t7-7"><circle class="o" cx="715" cy="734" r="5"/><text x="723" y="738">EF203921-CU49</text></g>
<g id="t7-8"><circle class="o" cx="715" cy="748" r="5"/><text x="723" y="752">NC 007455-HBoV</text></g>
<g id="t7-9"><circle class="o" cx="715" cy="762" r="5"/><text x="723" y="766">EU984236-TW2836</text></g>
<g id="t7-10"><circle class="o" cx="715" cy="776" r="5"/><text x="723" y="780">EF203920-CU6</text></g>
<g id="t7-11"><circle class="o" cx="715" cy="790" r="5"/><text x="723" y="794">EU262979-CU74W</text></g>
<g id="t7-12"><circle class="o" cx="715" cy="804" r="5"/><text x="723" y="808">EF203922-CU74</text></g>
<g id="t7-13"><circle class="o" cx="726" cy="818" r="5"/><text x="734" y="822">EU918736-W471</text></g>
<g id="t7-14"><circle class="o" cx="726" cy="832" r="5"/><text x="734" y="836">NC 012564-HBoV3</text></g>
<g id="t7-15"><circle class="o" cx="726" cy="846" r="5"/><text x="734" y="850">FJ948861-W855</text></g>
<g id="t7-16"><circle class="o" cx="726" cy="860" r="5"/><text x="734" y="864">FJ973562-TUA21007</text></g>
<g id="t7-17"><circle class="f" cx="725" cy="874" r="5.5"/><text x="733" y="878">GU048665-CU2139UK</text></g>
<g id="t7-18"><circle class="o" cx="726" cy="888" r="5"/><text x="734" y="892">FJ973561-NI385</text></g>
<g id="t7-19"><circle class="o" cx="726" cy="902" r="5"/><text x="734" y="906">NC 012729-HBoV4</text></g>
<g id="t7-20"><circle class="o" cx="717" cy="916" r="5"/><text x="725" y="920">GQ200737-KU1</text></g>
<g id="t7-21"><circle class="o" cx="718" cy="930" r="5"/><text x="726" y="934">NC 012042-HBoV2</text></g>
<g id="t7-22"><circle class="o" cx="718" cy="944" r="5"/><text x="726" y="948">FJ973559-NI327</text></g>
<g id="t7-23"><circle class="o" cx="720" cy="958" r="5"/><text x="728" y="962">FJ170279-PK2255</text></g>
<g id="t7-24"><circle class="o" cx="720" cy="972" r="5"/><text x="728" y="976">FJ973560-NI213</text></g>
<g id="t7-25"><circle class="f" cx="720" cy="986" r="5.5"/><text x="728" y="990">GU048662-CU47TH</text></g>
<g id="t7-26"><circle class="f" cx="720" cy="1000" r="5.5"/><text x="728" y="1004">GU048663-CU54TH</text></g>
<g id="t7-27"><circle class="o" cx="723" cy="1014" r="5"/><text x="731" y="1018">FJ973558-TUA11406</text></g>
<g id="t7-28"><circle class="o" cx="720" cy="1028" r="5"/><text x="728" y="1032">EU082213-W153</text></g>
<g id="t7-29"><circle class="o" cx="720" cy="1042" r="5"/><text x="728" y="1046">FJ170280-UK648</text></g>
<g id="t7-30"><circle class="f" cx="720" cy="1056" r="5.5"/><text x="728" y="1060">GU048664-CU1557UK</text></g>
<g id="t7-31"><circle class="o" cx="720" cy="1070" r="5"/><text x="728" y="1074">EU082214-W208</text></g>
<g id="t7-32"><circle class="o" cx="720" cy="1084" r="5"/><text x="728" y="1088">FJ948860-W298</text></g>
<g id="t7-boot">
<text class="bs" x="701" y="746">100</text><text class="bs" x="712" y="866">100</text><text class="bs" x="712" y="891">100</text><text class="bs" x="705" y="940">100</text>
<text class="bs" x="675" y="968">100</text><text class="bs" x="705" y="958">97</text><text class="bs" x="705" y="1008">100</text><text class="bs" x="703" y="1066">86</text>
</g>
<g id="t7-clades"><text class="cl" x="860" y="740">HBoV1</text><text class="cl" x="860" y="871">HBoV3</text><text class="cl" x="860" y="902">HBoV4</text><text class="cl" x="860" y="1027">HBoV2</text></g>
</g>

<!-- ===== Tree 8: amino acid, VP1/VP2 ===== -->
<g id="tree-aa-vp">
<g id="t8-edges">
<path class="br" d="M922,770V916M922,770H982M982,636V806M980,740V780M982,636H993M982,650H993M982,664H993M982,678H993M982,692H993M982,706H995M982,720H993M982,734H993M982,748H993M982,762H993M982,776H993M982,790H995M982,804H990M922,916H955M955,856V982M955,856H960M960,825V888M960,825H985M985,818V832M985,818H988M985,832H988M960,888H978M978,846V902M978,846H985M978,860H985M978,874H985M978,888H985M978,902H983M955,982H968M968,937V1028M968,937H972M972,923V951M972,923H978M978,916V930M978,916H985M978,930H987M972,951H980M980,944V958M968,1028H976M976,972V1084M978,995V1084M976,972H985M976,986H985M976,1000H985M976,1014H987M976,1028H987M976,1042H985M976,1056H985M976,1070H985M976,1084H982"/>
<path class="bk" d="M1128,630V810M1128,814V837M1128,842V906M1128,911V1092"/>
</g>
<g id="t8-0"><circle class="o" cx="998" cy="636" r="5"/><text x="1006" y="640">EF441262-WLL2</text></g>
<g id="t8-1"><circle class="o" cx="998" cy="650" r="5"/><text x="1006" y="654">AB480174-JPN13</text></g>
<g id="t8-2"><circle class="o" cx="998" cy="664" r="5"/><text x="1006" y="668">EF203920-CU6</text></g>
<g id="t8-3"><circle class="o" cx="998" cy="678" r="5"/><text x="1006" y="682">DQ340570-CRD2</text></g>
<g id="t8-4"><circle class="o" cx="998" cy="692" r="5"/><text x="1006" y="696">EF450722-HK6</text></g>
<g id="t8-5"><circle class="o" cx="1000" cy="706" r="5"/><text x="1008" y="710">EF450726-HK10</text></g>
<g id="t8-6"><circle class="o" cx="998" cy="720" r="5"/><text x="1006" y="724">DQ000496-st2</text></g>
<g id="t8-7"><circle class="o" cx="998" cy="734" r="5"/><text x="1006" y="738">NC 007455-HBoV</text></g>
<g id="t8-8"><circle class="o" cx="998" cy="748" r="5"/><text x="1006" y="752">EU984236-TW2836</text></g>
<g id="t8-9"><circle class="o" cx="998" cy="762" r="5"/><text x="1006" y="766">EF203922-CU74</text></g>
<g id="t8-10"><circle class="o" cx="998" cy="776" r="5"/><text x="1006" y="780">EU262978-CU8N</text></g>
<g id="t8-11"><circle class="o" cx="1000" cy="790" r="5"/><text x="1008" y="794">EU262979-CU74W</text></g>
<g id="t8-12"><circle class="o" cx="995" cy="804" r="5"/><text x="1003" y="808">EF203921-CU49</text></g>
<g id="t8-13"><circle class="o" cx="993" cy="818" r="5"/><text x="1001" y="822">NC 012729-HBoV4</text></g>
<g id="t8-14"><circle class="o" cx="993" cy="832" r="5"/><text x="1001" y="836">FJ973561-NI385</text></g>
<g id="t8-15"><circle class="o" cx="990" cy="846" r="5"/><text x="998" y="850">FJ948861-W855</text></g>
<g id="t8-16"><circle class="f" cx="990" cy="860" r="5.5"/><text x="998" y="864">GU048665-CU2139UK</text></g>
<g id="t8-17"><circle class="o" cx="990" cy="874" r="5"/><text x="998" y="878">EU918736-W471</text></g>
<g id="t8-18"><circle class="o" cx="990" cy="888" r="5"/><text x="998" y="892">NC 012564-HBoV3</text></g>
<g id="t8-19"><circle class="o" cx="988" cy="902" r="5"/><text x="996" y="906">FJ973562-TUA21007</text></g>
<g id="t8-20"><circle class="o" cx="990" cy="916" r="5"/><text x="998" y="920">FJ973559-NI327</text></g>
<g id="t8-21"><circle class="o" cx="992" cy="930" r="5"/><text x="1000" y="934">FJ973560-NI213</text></g>
<g id="t8-22"><circle class="f" cx="985" cy="944" r="5.5"/><text x="993" y="948">GU048663-CU54TH</text></g>
<g id="t8-23"><circle class="f" cx="985" cy="958" r="5.5"/><text x="993" y="962">GU048662-CU47TH</text></g>
<g id="t8-24"><circle class="o" cx="990" cy="972" r="5"/><text x="998" y="976">GQ200737-KU1</text></g>
<g id="t8-25"><circle class="o" cx="990" cy="986" r="5"/><text x="998" y="990">NC 012042-HBoV2</text></g>
<g id="t8-26"><circle class="o" cx="990" cy="1000" r="5"/><text x="998" y="1004">FJ170279-PK2255</text></g>
<g id="t8-27"><circle class="o" cx="992" cy="1014" r="5"/><text x="1000" y="1018">FJ973558-TUA11406</text></g>
<g id="t8-28"><circle class="o" cx="992" cy="1028" r="5"/><text x="1000" y="1032">FJ948860-W298</text></g>
<g id="t8-29"><circle class="o" cx="990" cy="1042" r="5"/><text x="998" y="1046">EU082213-W153</text></g>
<g id="t8-30"><circle class="o" cx="990" cy="1056" r="5"/><text x="998" y="1060">EU082214-W208</text></g>
<g id="t8-31"><circle class="o" cx="990" cy="1070" r="5"/><text x="998" y="1074">FJ170280-UK648</text></g>
<g id="t8-32"><circle class="f" cx="987" cy="1084" r="5.5"/><text x="995" y="1088">GU048664-CU1557UK</text></g>
<g id="t8-boot">
<text class="bs" x="975" y="764">100</text><text class="bs" x="978" y="812">100</text><text class="bs" x="952" y="846">87</text><text class="bs" x="970" y="861">97</text>
<text class="bs" x="962" y="893">100</text><text class="bs" x="970" y="918">100</text><text class="bs" x="972" y="932">95</text><text class="bs" x="965" y="968">100</text><text class="bs" x="976" y="961">87</text>
<text class="bs" x="970" y="1008">99</text><text class="bs" x="970" y="1078">94</text>
</g>
<g id="t8-clades"><text class="cl" x="1134" y="751">HBoV1</text><text class="cl" x="1134" y="831">HBoV4</text><text class="cl" x="1134" y="882">HBoV3</text><text class="cl" x="1134" y="1041">HBoV2</text></g>
</g>
</svg>
